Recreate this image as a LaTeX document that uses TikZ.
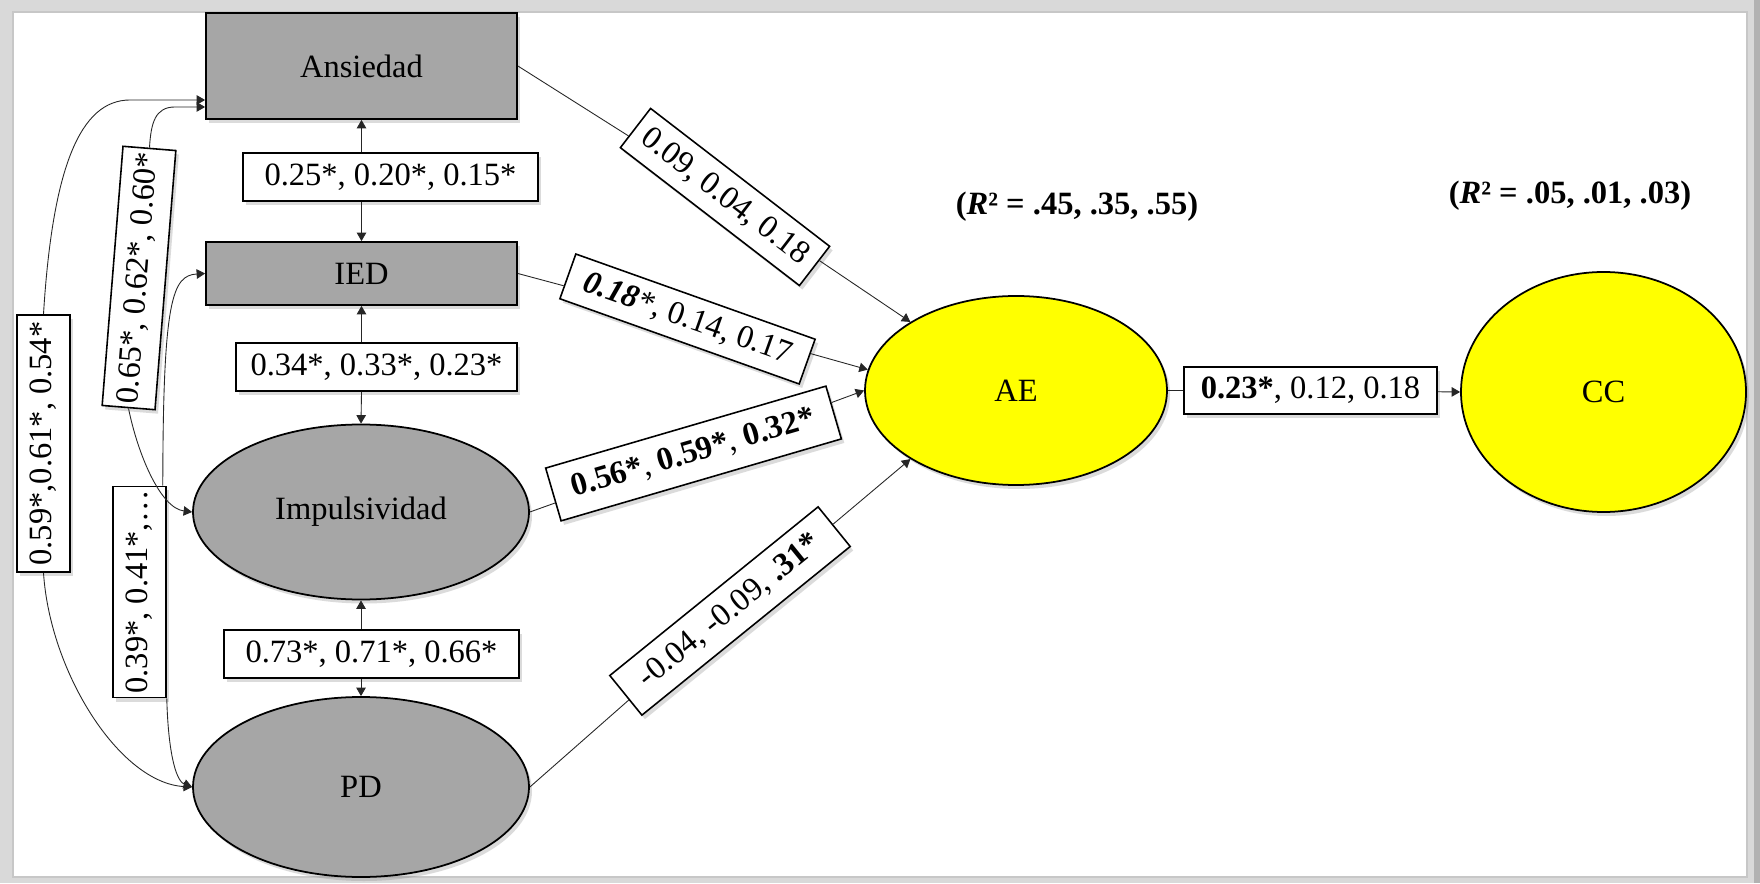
\documentclass[tikz,border=0pt]{standalone}
\usepackage{fontspec}
\setmainfont{Liberation Serif}
\usepackage{tikz}
\usetikzlibrary{
  arrows.meta,
  shapes.geometric,
  shadows
}
\definecolor{outcome}{RGB}{255,255,0}
\tikzset{
  soft shadow/.style={
    drop shadow={
      shadow xshift=0.06cm,
      shadow yshift=-0.08cm,
      opacity=0.28
    }
  },
  observed var/.style={
    rectangle,
    draw=black,
    line width=1pt,
    fill=black!35,
    minimum width=6.22cm,
    inner sep=0pt,
    soft shadow
  },
  latent var/.style={
    ellipse,
    draw=black,
    line width=1pt,
    inner sep=0pt,
    soft shadow
  },
  path coef/.style={
    rectangle,
    draw=black,
    line width=0.9pt,
    fill=white,
    inner xsep=0.08cm,
    inner ysep=0pt,
    minimum height=0.96cm,
    soft shadow
  },
  path line/.style={
    line width=0.5pt,
    draw=black!85
  },
  path arrow/.style={
    path line,
    -{Triangle[length=1.7mm, width=1.9mm]}
  }
}

\begin{document}
\begin{tikzpicture}[font=\fontsize{18.5pt}{22pt}\selectfont]

    % marco
    \useasboundingbox (0,0) rectangle (35.2,17.66);
    \fill[black!15] (0,0) rectangle (35.2,17.66);
    \fill[black!30] (35.08,0) rectangle (35.2,17.66);
    \path[fill=white, draw=black!22, line width=1pt]
      (0.26,0.12) rectangle (34.94,17.42);

    % ---------- predictores ----------
    \node[observed var, minimum height=2.12cm] (ans) at (7.23,16.34) {Ansiedad};
    \node[observed var, minimum height=1.26cm] (ied) at (7.23,12.19) {IED};
    \node[latent var, fill=black!35, minimum width=6.72cm, minimum height=3.5cm]
      (imp) at (7.22,7.42) {Impulsividad};
    \node[latent var, fill=black!35, minimum width=6.72cm, minimum height=3.6cm]
      (pd) at (7.22,1.92) {PD};

    % ---------- resultados ----------
    \node[latent var, fill=outcome, minimum width=6.04cm, minimum height=3.78cm]
      (ae) at (20.32,9.85) {AE};
    \node[latent var, fill=outcome, minimum width=5.7cm, minimum height=4.8cm]
      (cc) at (32.07,9.82) {CC};

    \node (rae) at (21.54,13.52)
      {\textbf{(\textit{R}² = .45, .35, .55)}};
    \node (rcc) at (31.40,13.74)
      {\textbf{(\textit{R}² = .05, .01, .03)}};

    % covarianzas entre predictores
    \node[path coef, minimum width=5.9cm] (l1) at (7.81,14.12)
      {0.25*, 0.20*, 0.15*};
    \node[path coef, minimum width=5.62cm] (l2) at (7.53,10.32)
      {0.34*, 0.33*, 0.23*};
    \node[path coef, minimum width=5.9cm] (l3) at (7.43,4.58)
      {0.73*, 0.71*, 0.66*};

    \node[path coef, rotate=90, minimum width=5.14cm, minimum height=1.06cm]
      (la) at (0.87,8.79) {0.59*,0.61*, 0.54*};
    \node[path coef, rotate=85.4, minimum width=5.2cm, minimum height=1.06cm]
      (lb) at (2.78,12.10) {0.65*, 0.62*, 0.60*};
    \node[path coef, rotate=90, minimum width=4.2cm, minimum height=1.06cm]
      (lc) at (2.79,5.82) {0.39*, 0.41*,\ldots};

    \draw[path arrow] (ans.south |- l1.north) -- (ans.south);
    \draw[path arrow] (ans.south |- l1.south) -- (ied.north);
    \draw[path arrow] (ied.south |- l2.north) -- (ied.south);
    \draw[path arrow] (ied.south |- l2.south) -- (imp.north);
    \draw[path arrow] (imp.south |- l3.north) -- (imp.south);
    \draw[path arrow] (imp.south |- l3.south) -- (pd.north);

    % Ansiedad - PD
    \draw[path arrow] (la.east)
      .. controls (1.05,14.3) and (1.6,15.66) .. (2.6,15.66)
      -- ([yshift=-0.68cm]ans.west);
    \draw[path arrow] (la.west)
      .. controls (1.0,4.2) and (2.4,2.0) .. (pd.west);

    % Ansiedad - Impulsividad
    \draw[path arrow] (lb.east)
      .. controls (3.02,15.2) and (3.1,15.52) .. (3.5,15.52)
      -- ([yshift=-0.82cm]ans.west);
    \draw[path arrow] (lb.west)
      .. controls (2.75,8.6) and (3.2,7.5) .. (imp.west);

    % IED - PD
    \draw[path arrow] ([xshift=-0.08cm]lc.south east)
      .. controls (3.26,11.7) and (3.45,12.15) .. (ied.west);
    \draw[path arrow] (lc.south west)
      .. controls (3.36,2.7) and (3.5,2.05) .. (pd.west);

    % ---------- efectos sobre AE ----------
    \node[path coef, rotate=-37.6, minimum width=4.52cm, minimum height=0.99cm]
      (ld) at (14.50,13.72) {0.09, 0.04, 0.18};
    \node[path coef, rotate=-19.6, minimum width=5.08cm, minimum height=0.95cm]
      (le) at (13.75,11.28) {\textbf{\textit{0.18}}\textit{*}, 0.14, 0.17};
    \node[path coef, rotate=16.3, minimum width=5.84cm, minimum height=1.1cm]
      (lf) at (13.87,8.59) {\textbf{0.56*}, \textbf{0.59*}, \textbf{0.32*}};
    \node[path coef, rotate=39, minimum width=5.36cm, minimum height=1.02cm]
      (lg) at (14.60,5.44) {-0.04, -0.09, \textbf{.31*}};

    \draw[path line] (ans.east) -- (ld);
    \draw[path arrow] (ld) -- (ae.147);
    \draw[path line] (ied.east) -- (le);
    \draw[path arrow] (le) -- (ae.172);
    \draw[path line] (imp.east) -- (lf);
    \draw[path arrow] (lf) -- (ae.west);
    \draw[path line] (pd.east) -- (lg);
    \draw[path arrow] (lg) -- (ae.213);

    % AE -> CC
    \node[path coef, minimum width=5.06cm, minimum height=0.94cm]
      (lh) at (26.21,9.85) {\textbf{0.23*}, 0.12, 0.18};
    \draw[path line] (ae.east) -- (lh);
    \draw[path arrow] (lh) -- (cc.west);

  \end{tikzpicture}
\end{document}
